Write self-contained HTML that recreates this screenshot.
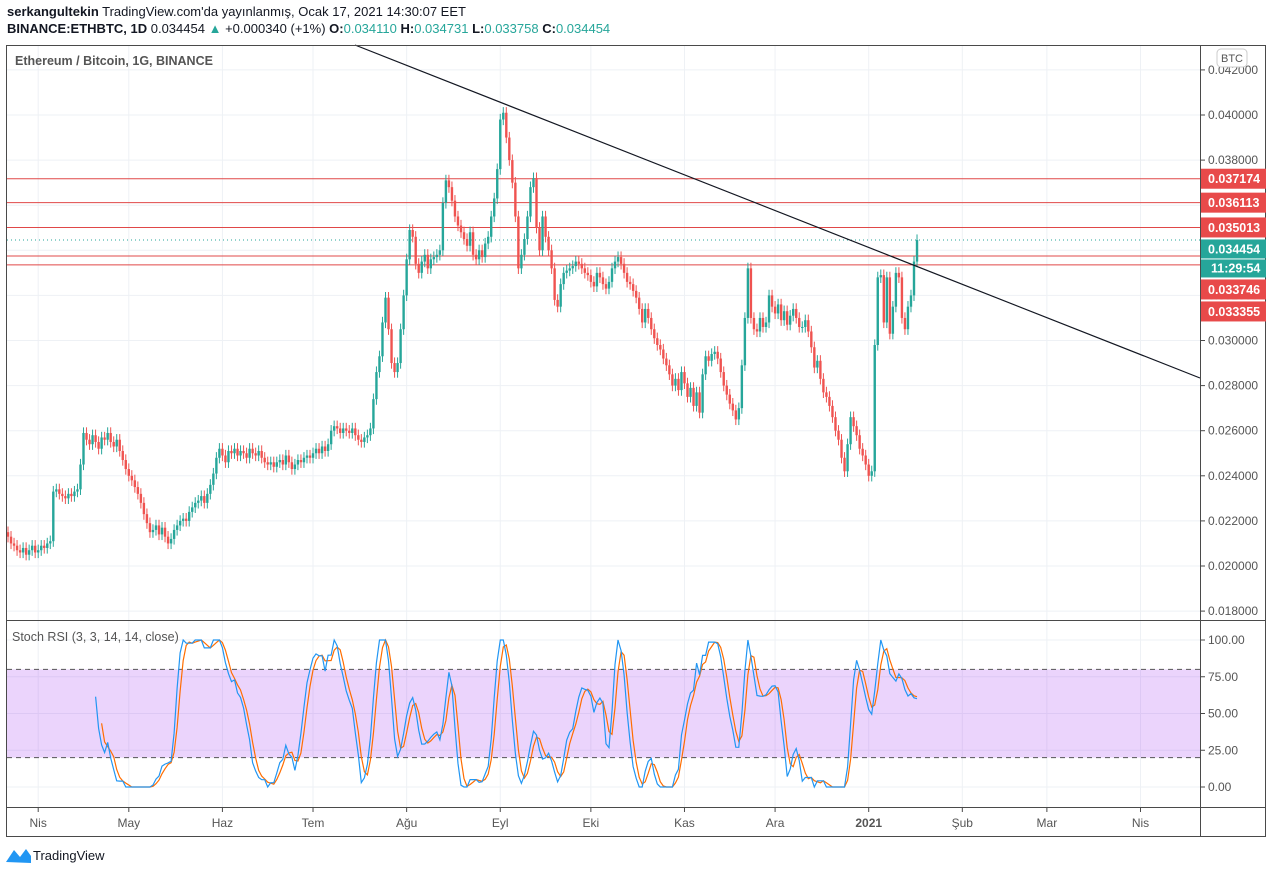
<!DOCTYPE html>
<html><head><meta charset="utf-8"><style>
body{margin:0;width:1273px;height:873px;background:#fff;font-family:"Liberation Sans",sans-serif;overflow:hidden;position:relative}
.hdr{position:absolute;left:7px;font-size:13px;color:#131722;white-space:nowrap}
.t{color:#26a69a}
</style></head><body>
<div class="hdr" style="top:4px"><b>serkangultekin</b> TradingView.com'da yayınlanmış, Ocak 17, 2021 14:30:07 EET</div>
<div class="hdr" style="top:21px"><b>BINANCE:ETHBTC, 1D</b> 0.034454 <span class="t">▲</span> +0.000340 (+1%) <b>O:</b><span class="t">0.034110</span> <b>H:</b><span class="t">0.034731</span> <b>L:</b><span class="t">0.033758</span> <b>C:</b><span class="t">0.034454</span></div>
<svg id="c" width="1273" height="873" style="position:absolute;left:0;top:0"></svg>
<script>
// closes in units of 0.001 BTC
const closes=[21.3,21.0,20.9,20.7,20.6,20.8,20.5,20.7,20.9,20.6,20.7,20.9,20.8,21.0,21.1,
23.3,23.4,23.2,23.1,23.0,23.2,23.1,23.3,23.4,24.5,
25.9,25.6,25.4,25.8,25.5,25.2,25.7,25.6,25.9,25.5,25.3,25.6,25.1,24.7,
24.3,24.0,23.8,23.5,23.2,22.8,22.3,21.9,21.5,21.6,21.8,21.4,21.7,21.3,21.0,
21.2,21.6,21.8,22.0,22.1,22.0,22.4,22.6,22.8,22.9,23.1,22.8,23.2,23.6,24.1,
24.8,25.2,24.9,24.6,25.1,25.0,25.2,24.9,25.1,25.0,24.8,25.2,25.0,24.9,25.1,24.8,24.6,
24.5,24.6,24.4,24.6,24.7,24.5,24.9,24.6,24.3,24.5,24.7,
24.6,24.8,24.9,24.8,25.0,25.2,25.0,25.3,25.1,25.4,
26.0,26.2,26.1,25.9,26.1,26.0,25.9,26.1,25.8,25.6,25.5,25.7,25.8,26.1,
27.4,28.6,29.3,30.8,31.9,30.5,29.0,28.6,29.0,30.5,32.0,33.6,34.9,34.6,33.4,33.0,
33.5,33.8,33.2,33.6,33.7,33.8,34.0,36.1,37.1,
36.8,36.2,35.5,35.1,34.8,34.5,34.2,34.8,33.8,33.6,34.0,33.7,34.3,34.6,35.5,36.3,37.6,39.8,
40.1,39.0,38.0,37.0,35.5,33.2,33.8,
34.5,35.5,36.8,37.2,35.0,34.0,35.5,34.6,
34.0,33.2,31.8,31.5,32.5,33.0,33.1,33.2,33.3,33.5,33.4,33.2,
33.0,32.9,32.6,32.4,33.0,32.8,32.5,32.3,32.6,33.2,33.5,33.7,33.4,33.0,32.6,
32.5,32.2,31.9,31.4,30.8,31.4,31.0,30.5,30.1,29.8,29.6,29.2,28.9,28.5,28.0,28.3,27.8,
28.6,28.1,27.5,27.9,27.1,27.7,26.8,28.5,29.3,29.1,29.4,29.5,29.2,28.6,28.0,27.6,27.2,26.9,26.5,27.0,28.9,31.0,33.2,
31.0,30.5,30.4,31.0,30.6,30.8,32.0,31.5,31.2,31.6,30.9,31.3,30.7,31.1,31.4,31.0,30.6,
30.6,30.9,30.4,29.7,28.8,29.1,28.3,27.7,27.5,27.1,26.6,26.0,25.6,24.8,24.2,25.4,26.6,26.2,25.8,25.2,24.9,24.5,24.0,24.2,29.8,32.8,32.9,30.8,32.8,30.3,31.5,33.0,32.8,31.0,30.5,31.5,32.0,33.5,34.454];
const firstOpen=21.5;
const priceTicks=[18,20,22,24,26,28,30,32,34,36,38,40,42];
const levels=[37.174,36.113,35.013,33.746,33.355];
const lastPrice=34.454;
const stochTicks=[0,25,50,75,100];
const months=["Nis","May","Haz","Tem","Ağu","Eyl","Eki","Kas","Ara","2021","Şub","Mar","Nis"];
const monthDay=[10,40,71,101,132,163,193,224,254,285,316,344,375]; // day index from Mar 22

const NS="http://www.w3.org/2000/svg",svg=document.getElementById('c');
function el(t,a,p){const e=document.createElementNS(NS,t);for(const k in a)e.setAttribute(k,a[k]);(p||svg).appendChild(e);return e;}
const X=i=>8+i*3.02;
const Y=p=>115+(40-p)*22.55;
const SY=v=>787-v*1.47;
const L=7,R=1200;
priceTicks.forEach(p=>{const g=el('line',{x1:L,x2:R,y1:Y(p),y2:Y(p),stroke:'#eef1f5'});});
stochTicks.forEach(v=>{const g=el('line',{x1:L,x2:R,y1:SY(v),y2:SY(v),stroke:'#eef1f5'});});
monthDay.forEach(d=>{const g=el('line',{x1:X(d),x2:X(d),y1:45,y2:807,stroke:'#eef1f5'});});
const band=el('rect',{x:L,y:SY(80),width:R-L,height:SY(20)-SY(80),fill:'#9c27f0',opacity:0.2});

[80,20].forEach(v=>{const d=el('line',{x1:L,x2:R,y1:SY(v),y2:SY(v),stroke:'#555','stroke-dasharray':'5,4'});});
levels.forEach(p=>{const l=el('line',{x1:L,x2:R,y1:Y(p),y2:Y(p),stroke:'#e04848','stroke-width':1});});
const lp=el('line',{x1:L,x2:R,y1:Y(lastPrice),y2:Y(lastPrice),stroke:'#26a69a','stroke-dasharray':'1,3'});

for(let i=0;i<closes.length;i++){
 const o=i?closes[i-1]:firstOpen,c=closes[i],up=c>=o,col=up?'#26a69a':'#ef5350';
 const hi=Math.max(o,c)+0.25,lo=Math.min(o,c)-0.25,x=X(i);
 const g=el('g',{});
 el('line',{x1:x,x2:x,y1:Y(hi),y2:Y(lo),stroke:col},g);
 el('rect',{x:x-1.2,y:Y(Math.max(o,c)),width:2.4,height:Math.max(1,Math.abs(Y(o)-Y(c))),fill:col},g);
}
const tl=el('line',{x1:355,y1:45,x2:1200,y2:378,stroke:'#131722','stroke-width':1.2});

const n=closes.length,rsi=new Array(n).fill(null);
let ag=0,al=0;
for(let i=1;i<n;i++){const ch=closes[i]-closes[i-1],g=Math.max(ch,0),l=Math.max(-ch,0);
 if(i<=14){ag+=g/14;al+=l/14;}else{ag=(ag*13+g)/14;al=(al*13+l)/14;}
 if(i>=14)rsi[i]=al==0?100:100-100/(1+ag/al);}
const st=new Array(n).fill(null);
for(let i=0;i<n;i++){if(i<27)continue;let mn=1e9,mx=-1e9;for(let j=i-13;j<=i;j++){mn=Math.min(mn,rsi[j]);mx=Math.max(mx,rsi[j]);}st[i]=mx==mn?50:(rsi[i]-mn)/(mx-mn)*100;}
function sma(a,p){return a.map((v,i)=>{let s=0;for(let j=i-p+1;j<=i;j++){if(j<0||a[j]==null)return null;s+=a[j];}return s/p;});}
const K=sma(st,3),D=sma(K,3);
function path(a){let d='';a.forEach((v,i)=>{if(v!=null)d+=(d?'L':'M')+X(i).toFixed(1)+','+SY(v).toFixed(1);});return d;}
const dp=el('path',{d:path(D),fill:'none',stroke:'#ff6d00','stroke-width':1.2});
const kp=el('path',{d:path(K),fill:'none',stroke:'#2196f3','stroke-width':1.2});
const fr=el('rect',{x:6.5,y:45.5,width:1259,height:791,fill:'none',stroke:'#4a4a4a'});
[620.5,807.5].forEach(y=>{const s=el('line',{x1:6,x2:1266,y1:y,y2:y,stroke:'#4a4a4a'});});
const ax=el('line',{x1:1200.5,x2:1200.5,y1:45,y2:836,stroke:'#4a4a4a'});
priceTicks.forEach(p=>{el('line',{x1:1200,x2:1205,y1:Y(p),y2:Y(p),stroke:'#4a4a4a'});const t=el('text',{x:1208,y:Y(p)+4,'font-size':12,fill:'#555'});t.textContent=(p/1000).toFixed(6);});
stochTicks.forEach(v=>{el('line',{x1:1200,x2:1205,y1:SY(v),y2:SY(v),stroke:'#4a4a4a'});const t=el('text',{x:1208,y:SY(v)+4,'font-size':12,fill:'#555'});t.textContent=v.toFixed(2);});
// axis labels with collision avoidance
const items=levels.map(p=>({p,h:20,last:false}));
items.push({p:lastPrice,h:38,last:true});
items.sort((a,b)=>b.p-a.p);
let prevBottom=-1e9;
items.forEach(it=>{
 let top=Math.max(Y(it.p)-10,prevBottom+2);
 prevBottom=top+it.h;
 const g=el('g',{});
 if(it.last){
  
  el('rect',{x:1201,y:top,width:65,height:19,fill:'#26a69a'},g);
  el('rect',{x:1201,y:top+20,width:65,height:18,fill:'#26a69a'},g);
  const t=el('text',{x:1208,y:top+14,'font-size':12.5,'font-weight':'bold',fill:'#fff'},g);t.textContent=(it.p/1000).toFixed(6);
  const t2=el('text',{x:1211,y:top+33,'font-size':12.5,'font-weight':'bold',fill:'#fff'},g);t2.textContent='11:29:54';
 }else{
  
  el('rect',{x:1201,y:top,width:65,height:it.h,fill:'#e84a4a'},g);
  const t=el('text',{x:1208,y:top+14.5,'font-size':12.5,'font-weight':'bold',fill:'#fff'},g);t.textContent=(it.p/1000).toFixed(6);
 }
});
months.forEach((m,i)=>{el('line',{x1:X(monthDay[i]),x2:X(monthDay[i]),y1:807,y2:812,stroke:'#4a4a4a'});const t=el('text',{x:X(monthDay[i]),y:827,'font-size':12,fill:'#555','text-anchor':'middle','font-weight':m=='2021'?'bold':'normal'});t.textContent=m;});
{const t=el('text',{x:15,y:65,'font-size':12.5,'font-weight':'bold',fill:'#555'});t.textContent='Ethereum / Bitcoin, 1G, BINANCE';}
{const t=el('text',{x:12,y:641,'font-size':12.5,fill:'#555'});t.textContent='Stoch RSI (3, 3, 14, 14, close)';}
{const g=el('g',{});
 el('rect',{x:1217,y:49,width:30,height:18,rx:4,fill:'#fff',stroke:'#ccc'},g);const t=el('text',{x:1232,y:62,'font-size':11,fill:'#555','text-anchor':'middle'},g);t.textContent='BTC';}
{const g=el('g',{});
 el('path',{d:'M6,862 L14,850 L20,857 L26,849 L31,856 L31,863 Z',fill:'#2196f3'},g);
 const t=el('text',{x:33,y:860,'font-size':13,fill:'#131722'},g);t.textContent='TradingView';}
</script>
</body></html>
